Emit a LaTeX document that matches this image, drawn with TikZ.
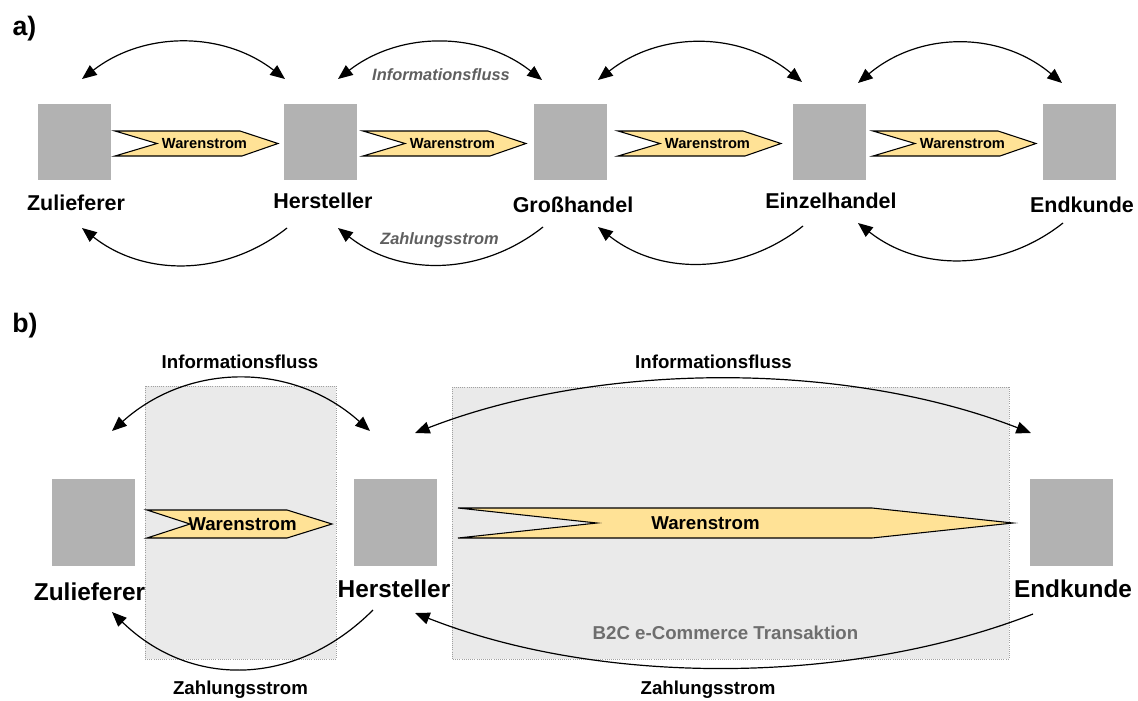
\documentclass[tikz,border=0pt]{standalone}
\usepackage{fontspec}
\setmainfont{Liberation Sans}
\usetikzlibrary{arrows.meta}
\definecolor{boxgray}{RGB}{178,178,178}
\definecolor{shadegray}{RGB}{234,234,234}
\definecolor{shadeborder}{RGB}{160,160,160}
\definecolor{warecol}{RGB}{255,226,150}
\definecolor{infogray}{RGB}{95,95,95}
\definecolor{btwogray}{RGB}{110,110,110}
\begin{document}
\begin{tikzpicture}[x=0.75pt,y=-0.75pt,
  abox/.style={fill=boxgray, draw=none, minimum width=54.75pt, minimum height=57pt, inner sep=0pt},
  bbox/.style={fill=boxgray, draw=none, minimum width=62.25pt, minimum height=65.25pt, inner sep=0pt},
  alab/.style={font=\bfseries\fontsize{16.1}{18}\selectfont, inner sep=0pt},
  blab/.style={font=\bfseries\fontsize{18.3}{21}\selectfont, inner sep=0pt},
  part/.style={font=\bfseries\fontsize{20}{22}\selectfont, inner sep=0pt},
  warebody/.style={fill=warecol, draw=black, line width=0.8pt, line join=miter},
  awtext/.style={font=\bfseries\fontsize{11}{13}\selectfont, inner sep=0pt},
  bwtext/.style={font=\bfseries\fontsize{14}{16}\selectfont, inner sep=0pt},
  ital/.style={font=\bfseries\itshape\fontsize{12.3}{14}\selectfont, text=infogray, inner sep=0pt},
  bsmall/.style={font=\bfseries\fontsize{14}{16}\selectfont, inner sep=0pt},
  zone/.style={fill=shadegray, draw=shadeborder, densely dotted, line width=0.6pt},
  onehead/.style={line width=0.9pt, -{Triangle[length=11pt,width=9pt]}},
  twohead/.style={line width=0.9pt, {Triangle[length=11pt,width=9pt]}-{Triangle[length=11pt,width=9pt]}},
]
\useasboundingbox (0,0) rectangle (1138,700);

% ---------------- part a ----------------
\node[part] (pa) at (24.5,29) {a)};

\node[abox] (azul) at (74.5,142) {};
\node[abox] (aher) at (320,142) {};
\node[abox] (agro) at (570.5,142) {};
\node[abox] (aein) at (829.5,142) {};
\node[abox] (aend) at (1079.5,142) {};

\node[alab] (lazul) at (76,203) {Zulieferer};
\node[alab] (laher) at (323,201) {Hersteller};
\node[alab] (lagro) at (573,205) {Großhandel};
\node[alab] (laein) at (831,201) {Einzelhandel};
\node[alab] (laend) at (1082,205) {Endkunde};

\foreach \s [count=\i] in {115,363,618,873}{
  \draw[warebody] (\s,131) -- (\s+42,143.5) -- (\s,156) -- (\s+127,156)
        -- (\s+163,143.5) -- (\s+125,131) -- cycle;
  \node[awtext] (aw\i) at (\s+89.5,143.5) {Warenstrom};
}

% information flows (top)
\foreach \l/\r/\yl/\yr [count=\i] in {82/285/79/79,338/542/79/80,598/802/80/82,858/1062/83/83}{
  \coordinate (ait\i) at (\l,\yl);
  \coordinate (air\i) at (\r,\yr);
  \draw[twohead] (ait\i) .. controls (\l+62,31) and (\r-62,31) .. (air\i);
}
% payment flows (bottom)
\foreach \r/\yr/\l/\yl [count=\i] in {287/228/82/228,543/227/338/228,803/226/598/227,1063/223/858/223}{
  \coordinate (azs\i) at (\r,\yr);
  \coordinate (azt\i) at (\l,\yl);
  \draw[onehead] (azs\i) .. controls (\r-62,\yr+49) and (\l+62,\yl+49) .. (azt\i);
}
\node[ital] (ainfo) at (441,75) {Informationsfluss};
\node[ital] (azahl) at (439.5,240) {Zahlungsstrom};

% ---------------- part b ----------------
\node[part] (pb) at (25,325.5) {b)};

\draw[zone] (145,386) rectangle (336,659);
\draw[zone] (452,387) rectangle (1009,659);

\node[bbox] (bzul) at (93.5,522.5) {};
\node[bbox] (bher) at (395.5,522.5) {};
\node[bbox] (bend) at (1071.5,522.5) {};

\node[blab] (lbzul) at (89.5,592) {Zulieferer};
\node[blab] (lbher) at (394,589) {Hersteller};
\node[blab] (lbend) at (1073,589) {Endkunde};

\draw[warebody] (147,510) -- (190,524) -- (147,538) -- (287,538) -- (332,524) -- (287,510) -- cycle;
\node[bwtext] (bw1) at (242.5,524) {Warenstrom};
\draw[warebody] (458,508) -- (597,523) -- (458,538) -- (872,538) -- (1013,523) -- (872,508) -- cycle;
\node[bwtext] (bw2) at (705.5,523) {Warenstrom};

\coordinate (bi1a) at (112,431);
\coordinate (bi1b) at (370,431);
\draw[twohead] (bi1a) .. controls (189,362) and (293,362) .. (bi1b);
\coordinate (bi2a) at (415,433);
\coordinate (bi2b) at (1031,433);
\draw[twohead] (bi2a) .. controls (600,361) and (846,361) .. (bi2b);

\coordinate (bz1s) at (373,610);
\coordinate (bz1t) at (112,612);
\draw[onehead] (bz1s) .. controls (295,688) and (190,688) .. (bz1t);
\coordinate (bz2s) at (1033,614);
\coordinate (bz2t) at (415,613);
\draw[onehead] (bz2s) .. controls (848,686) and (600,686) .. (bz2t);

\node[bsmall] (binfo1) at (240,362) {Informationsfluss};
\node[bsmall] (binfo2) at (713.5,362) {Informationsfluss};
\node[bsmall] (bzahl1) at (240.5,690) {Zahlungsstrom};
\node[bsmall] (bzahl2) at (708,690) {Zahlungsstrom};
\node[bsmall, text=btwogray] (btwoc) at (725.5,633) {B2C e-Commerce Transaktion};
\end{tikzpicture}
\end{document}
